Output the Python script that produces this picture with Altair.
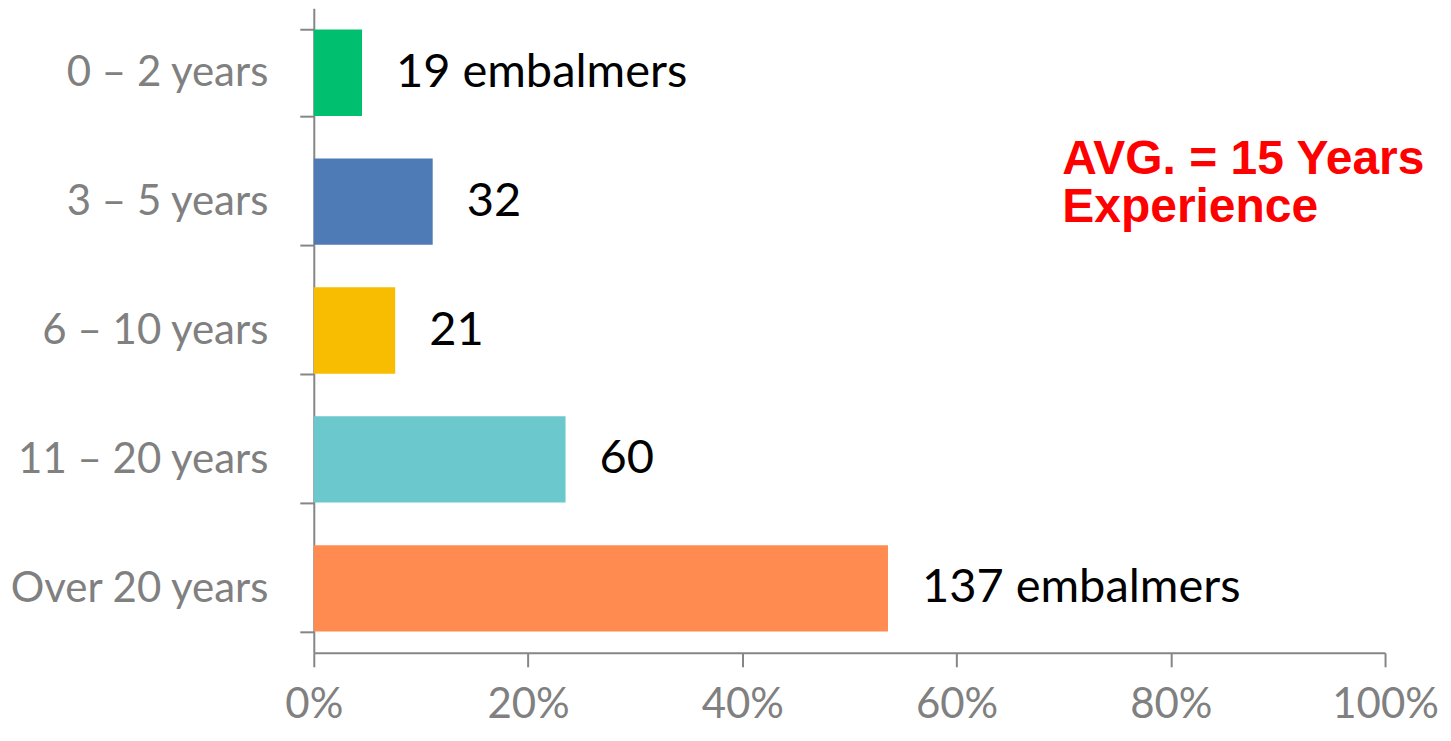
import altair as alt
import pandas as pd

categories = ["0 – 2 years", "3 – 5 years", "6 – 10 years", "11 – 20 years", "Over 20 years"]
shares = [0.045, 0.111, 0.076, 0.235, 0.536]
labels = ["19 embalmers", "32", "21", "60", "137 embalmers"]
colors = ["#00BF6F", "#4E7AB5", "#F8BD00", "#6BC8CC", "#FF8B51"]
x_ticks = [0, 0.2, 0.4, 0.6, 0.8, 1.0]
note_lines = ["AVG. = 15 Years", "Experience"]

df = pd.DataFrame({"cat": categories, "share": shares, "label": labels})

GREY = "#868686"
LABEL_GREY = "#808080"

y_enc = alt.Y(
    "cat:N",
    sort=categories,
    title=None,
    scale=alt.Scale(paddingInner=0.33, paddingOuter=0.165),
    axis=alt.Axis(
        tickBand="extent",
        tickSize=14,
        tickColor=GREY,
        tickWidth=2,
        domainColor=GREY,
        domainWidth=2,
        labelFont="Lato",
        labelFontSize=42,
        labelColor=LABEL_GREY,
        labelPadding=32,
        labelLimit=400,
    ),
)

x_enc = alt.X(
    "share:Q",
    title=None,
    scale=alt.Scale(domain=[0, 1], nice=False),
    axis=alt.Axis(
        values=x_ticks,
        format=".0%",
        grid=False,
        tickSize=14,
        tickColor=GREY,
        tickWidth=2,
        domainColor=GREY,
        domainWidth=2,
        labelFont="Lato",
        labelFontSize=42,
        labelColor=LABEL_GREY,
        labelPadding=18,
        labelFlush=False,
    ),
)

bars = alt.Chart(df).mark_bar().encode(
    x=x_enc,
    y=y_enc,
    color=alt.Color("cat:N", sort=categories, scale=alt.Scale(domain=categories, range=colors), legend=None),
)

text = alt.Chart(df).mark_text(
    align="left", baseline="middle", dx=34, font="Lato", fontSize=47, color="#000000"
).encode(
    x="share:Q",
    y=alt.Y("cat:N", sort=categories),
    text="label:N",
)

note = alt.Chart(pd.DataFrame({"t": [note_lines]})).mark_text(
    align="left",
    baseline="alphabetic",
    font="Liberation Sans",
    fontWeight="bold",
    fontSize=48,
    lineHeight=48,
    color="#FF0000",
).encode(
    x=alt.value(749),
    y=alt.value(166),
    text="t",
)

chart = (
    alt.layer(bars, text, note)
    .properties(
        width=1072,
        height=645,
        padding={"left": 306, "top": 0, "right": 58, "bottom": 78},
        autosize=alt.AutoSizeParams(type="none"),
        background="white",
    )
    .configure_view(strokeWidth=0, stroke="transparent")
)

chart.save("out.html", embed_options={"renderer": "svg", "actions": False})
